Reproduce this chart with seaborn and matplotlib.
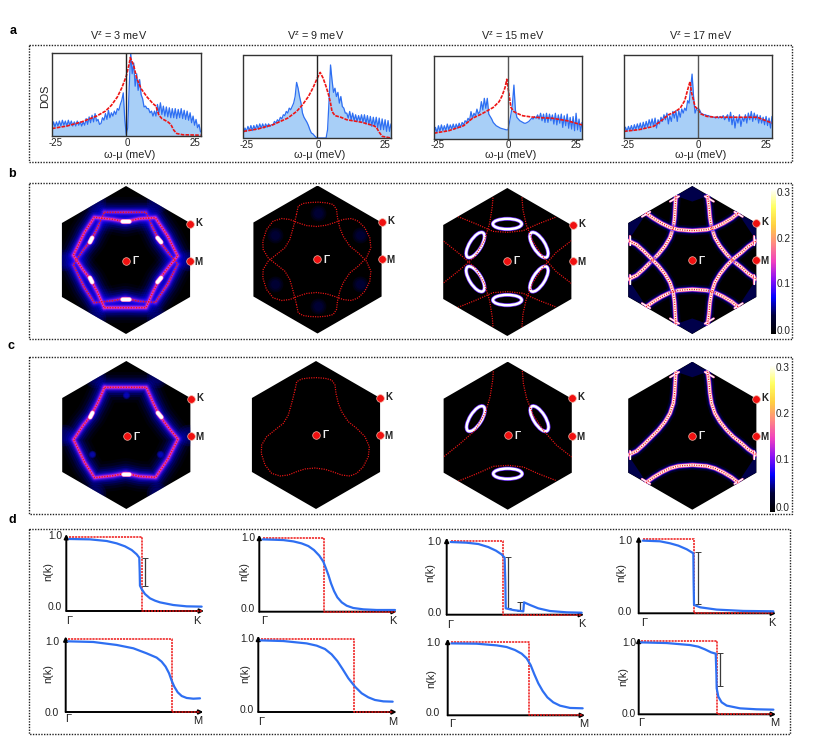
"""Recreates the DOS, Fermi surface and n(k) figure with seaborn."""

import matplotlib

matplotlib.use("Agg")
import matplotlib.pyplot as plt
import numpy as np
import seaborn as sns
from matplotlib.colors import LinearSegmentedColormap
from matplotlib.patches import Ellipse, Polygon, Rectangle

# --------------------------------------------------------------------------- #
# Data: panel a, DOS on a 0.5 meV grid from -25 to 25 meV
# --------------------------------------------------------------------------- #

V_Z = [3, 9, 15, 17]
OMEGA = np.arange(-25, 25.5, 0.5)

DOS_3 = [
    .10, .17, .11, .17, .12, .18, .12, .19, .13, .18,
    .12, .19, .13, .18, .12, .17, .12, .18, .13, .17,
    .12, .17, .13, .21, .14, .23, .16, .25, .17, .27,
    .18, .20, .14, .15, .22, .19, .27, .20, .31, .22,
    .28, .24, .30, .26, .33, .31, .38, .43, .52, .20,
    .02, .10, .60, 1.0, .75, .88, .60, .75, .55, .68,
    .50, .45, .35, .36, .33, .33, .28, .30, .24, .30,
    .24, .38, .28, .40, .26, .36, .24, .35, .23, .34,
    .22, .33, .22, .33, .21, .32, .22, .33, .21, .31,
    .20, .30, .19, .28, .16, .24, .13, .20, .10, .14,
    .05,
]
DOS_9 = [
    .06, .12, .08, .14, .09, .15, .09, .15, .10, .16,
    .11, .17, .12, .17, .12, .17, .13, .17, .14, .16,
    .16, .20, .18, .22, .20, .25, .23, .28, .27, .32,
    .30, .36, .34, .38, .42, .50, .67, .60, .50, .42,
    .30, .25, .22, .19, .15, .10, .06, .05, .03, .01,
    0, 0, 0, 0, 0, 0, 0, .10, .45, .88,
    .70, .55, .60, .50, .55, .42, .50, .38, .36, .30,
    .30, .24, .32, .22, .30, .21, .28, .20, .27, .20,
    .28, .19, .28, .17, .27, .16, .26, .14, .25, .14,
    .25, .12, .24, .10, .23, .10, .22, .08, .21, .08,
    .17,
]
DOS_15 = [
    .06, .14, .08, .16, .09, .17, .10, .16, .10, .18,
    .11, .17, .12, .18, .12, .18, .13, .19, .14, .20,
    .17, .22, .20, .25, .22, .33, .25, .31, .28, .36,
    .30, .33, .45, .35, .49, .37, .49, .30, .27, .24,
    .20, .18, .16, .15, .14, .13, .125, .12, .115, .11,
    .11, .20, .30, .42, .65, .35, .26, .24, .22, .21,
    .20, .19, .19, .20, .21, .23, .25, .24, .27, .25,
    .29, .24, .31, .22, .30, .20, .31, .20, .30, .22,
    .29, .18, .31, .17, .29, .19, .30, .14, .28, .16,
    .30, .13, .26, .12, .27, .10, .31, .11, .24, .09,
    .20,
]
DOS_17 = [
    .07, .13, .08, .14, .09, .15, .09, .16, .10, .17,
    .11, .18, .10, .19, .12, .20, .13, .22, .15, .23,
    .14, .24, .12, .22, .17, .25, .20, .28, .22, .30,
    .17, .27, .20, .32, .24, .33, .20, .33, .25, .35,
    .30, .36, .33, .45, .42, .60, .77, .50, .30, .35,
    .36, .34, .30, .29, .28, .28, .27, .27, .26, .26,
    .25, .25, .24, .26, .24, .26, .24, .27, .22, .25,
    .28, .20, .31, .16, .27, .12, .25, .18, .28, .14,
    .25, .20, .28, .18, .30, .22, .32, .20, .30, .22,
    .28, .18, .27, .18, .25, .16, .26, .15, .24, .12,
    .26,
]
DOS_BLUE = [DOS_3, DOS_9, DOS_15, DOS_17]

RED_3_W = [-25, -20, -15, -10, -7, -5, -3, -1.5, 0, 1, 1.35, 2.5, 3.5, 5, 7, 9, 10, 11, 12, 14, 15, 16, 17, 19, 25]
RED_3_D = [.09, .12, .17, .24, .30, .37, .47, .58, .72, .87, .945, .85, .70, .57, .47, .39, .36, .25, .21, .17, .14, .07, .03, .015, .01]
RED_9_W = [-25, -20, -15, -10, -7, -5, -3, -1.5, 0, 1, 2, 3, 4, 4.5, 5, 6, 8, 10, 15, 19, 20, 21, 22, 25]
RED_9_D = [.08, .11, .16, .24, .32, .40, .50, .60, .72, .79, .72, .62, .50, .42, .32, .27, .25, .22, .19, .15, .13, .07, .02, 0]
RED_15_W = [-25, -20, -15, -12, -9, -7, -5, -3, -2, -1, -.4, .5, 1, 2, 3, 5, 8, 12, 15, 20, 25]
RED_15_D = [.07, .10, .16, .25, .30, .34, .38, .45, .52, .62, .72, .50, .38, .33, .31, .28, .265, .255, .25, .22, .17]
RED_17_W = [-25, -20, -15, -12, -10, -8, -6, -4.5, -3.5, -2.7, -2.2, -1.5, -1, 0, 1, 3, 6, 10, 15, 20, 25]
RED_17_D = [.08, .10, .14, .22, .28, .31, .36, .45, .58, .68, .55, .45, .38, .34, .29, .26, .25, .25, .25, .25, .18]
DOS_RED = [(RED_3_W, RED_3_D), (RED_9_W, RED_9_D), (RED_15_W, RED_15_D), (RED_17_W, RED_17_D)]

# --------------------------------------------------------------------------- #
# Data: panels b and c, Fermi contours in units of |Gamma-K|
# --------------------------------------------------------------------------- #

CONTOUR_3_X = [-.293, .27, .36, .45, .586, .698, .563, .396, .18, -.009, -.18, -.428, -.563, -.712, -.586, -.473, -.383, -.293]
CONTOUR_3_Y = [.644, .644, .441, .261, .081, -.054, -.324, -.572, -.559, -.518, -.55, -.577, -.369, -.063, .126, .27, .441, .644]

CONTOUR_9_X = [
    -.284, -.261, -.194, -.104, .009, .122, .212, .257, .27, .302, .347, .437, .55, .662, .721, .707, .64, .55, .459,
    .347, .234, .122, -.014, -.149, -.261, -.374, -.486, -.599, -.689, -.739, -.734, -.667, -.554, -.441, -.374,
    -.329, -.306, -.284,
]
CONTOUR_9_Y = [
    .608, .721, .757, .77, .775, .766, .743, .676, .563, .428, .315, .18, .09, -.023, -.158, -.293, -.428, -.518, -.554,
    -.541, -.5, -.464, -.446, -.459, -.495, -.541, -.554, -.518, -.405, -.248, -.135, -.023, .068, .158, .27,
    .428, .518, .608,
]

ARCS_15 = [
    ([-.194, -.203, -.239, -.306, -.441, -.644, -.869], [.869, .748, .523, .297, .072, -.108, -.288]),
    ([.198, .212, .257, .347, .482, .662, .865], [.874, .703, .5, .275, .072, -.131, -.288]),
    ([-.667, -.419, -.194, .009, .212, .414, .649], [-.613, -.514, -.414, -.401, -.423, -.514, -.604]),
]
ARCS_17 = [
    ([-.221, -.23, -.239, -.257, -.302, -.369, -.459, -.55, -.662, -.752, -.865],
     [.865, .73, .572, .437, .302, .189, .077, -.014, -.126, -.207, -.261]),
    ([.207, .225, .239, .261, .306, .374, .464, .554, .667, .757, .869],
     [.865, .73, .572, .437, .302, .189, .077, -.014, -.104, -.185, -.261]),
    ([-.626, -.527, -.414, -.302, -.189, 0, .194, .306, .419, .532, .622],
     [-.635, -.563, -.495, -.441, -.41, -.396, -.41, -.441, -.495, -.563, -.635]),
]
FLARES_17 = [
    ([-.30, -.18], [.79, .86]), ([.17, .29], [.86, .79]),
    ([-.84, -.84], [-.32, -.20]), ([.84, .84], [-.32, -.20]),
    ([-.68, -.57], [-.585, -.65]), ([.57, .68], [-.65, -.585]),
]

# centre x, centre y, half length, half width, tilt in degrees
POCKETS_15 = [(0, -.514, .195, .07, 0), (-.432, .23, .195, .08, 58), (.428, .23, .195, .08, 122)]
HOT_3 = [([-.488, -.457], [.24, .30]), ([.425, .475], [.30, .24]), ([-.05, .04], [-.527, -.527])]
BLOBS_3 = [(-.84, 0), (.84, 0), (-.42, .78), (.42, .78), (-.42, -.78), (.42, -.78)]
SPOTS_3 = [(-.005, .54), (-.47, -.26), (.45, -.26)]
BLOBS_9 = [(0, .63), (-.58, .33), (.58, .33), (-.58, -.33), (.58, -.33), (0, -.63)]
WEDGES_17 = [
    [(-.221, .865), (0, 1), (.207, .865), (0, .79)],
    [(-.866, -.5), (-.866, -.26), (-.62, -.63)],
    [(.866, -.5), (.866, -.26), (.62, -.63)],
]

COLORBAR_TICKS = [0.0, 0.1, 0.2, 0.3]

# --------------------------------------------------------------------------- #
# Data: panel d, n(k) along the cut, x is the fraction of the axis length
# --------------------------------------------------------------------------- #

NK_1_X = [.022, .172, .293, .366, .426, .475, .511, .53, .533, .535, .547, .571, .608, .644, .68, .777, .874, .983]
NK_1_Y = [.973, .968, .946, .914, .874, .824, .766, .72, .53, .342, .297, .23, .171, .14, .117, .081, .063, .059]
NK_2_X = [.024, .102, .175, .248, .308, .357, .398, .437, .466, .485, .503, .522, .544, .568, .6, .636, .684, .757, .854, .988]
NK_2_Y = [.977, .973, .968, .95, .923, .887, .833, .757, .676, .586, .495, .383, .279, .194, .126, .081, .05, .032, .023, .023]
NK_3_X = [.019, .201, .371, .492, .588, .661, .697, .726, .751, .77, .789, .814, .843, .879, .927, .976]
NK_3_Y = [.972, .963, .922, .876, .807, .748, .693, .624, .533, .432, .349, .271, .22, .193, .183, .188]
NK_4_X = [.017, .181, .349, .422, .482, .53, .571, .609, .651, .699, .747, .795, .843, .904, .971]
NK_4_Y = [.977, .968, .936, .905, .859, .786, .695, .586, .459, .345, .255, .2, .164, .145, .141]
NK_5_X = [.029, .146, .231, .303, .359, .4, .422, .427, .43, .485, .558, .563, .607, .667, .752, .874, .983]
NK_5_Y = [.982, .973, .955, .914, .865, .815, .77, .446, .086, .063, .045, .167, .131, .086, .05, .032, .027]
NK_6_X = [.029, .155, .228, .289, .35, .398, .40, .403, .447, .568, .762, .981]
NK_6_Y = [.982, .973, .946, .914, .865, .811, .428, .113, .081, .05, .032, .027]
NK_7_X = [.027, .211, .357, .429, .49, .539, .575, .604, .631, .66, .692, .726, .769, .818, .891, .983]
NK_7_Y = [.977, .973, .95, .928, .887, .837, .774, .683, .557, .434, .33, .244, .176, .131, .1, .095]
NK_8_X = [.017, .204, .374, .434, .483, .527, .561, .566, .568, .58, .604, .641, .738, .859, .981]
NK_8_Y = [.977, .968, .941, .919, .882, .842, .824, .534, .353, .24, .163, .118, .081, .068, .063]
NK_CURVES = [
    (NK_1_X, NK_1_Y), (NK_2_X, NK_2_Y), (NK_3_X, NK_3_Y), (NK_4_X, NK_4_Y),
    (NK_5_X, NK_5_Y), (NK_6_X, NK_6_Y), (NK_7_X, NK_7_Y), (NK_8_X, NK_8_Y),
]

# free-electron step: start, step position, end
STEPS = [
    (.022, .552, .983), (.024, .471, .988), (.019, .772, .976), (.017, .689, .971),
    (.029, .413, .983), (.029, .403, .981), (.027, .592, .983), (.017, .568, .969),
]
# quasiparticle weight bars: x, low, high
Z_BARS = [
    [(.571, .342, .72)], [], [], [],
    [(.444, .086, .775), (.536, .045, .167)], [(.434, .122, .824)], [], [(.592, .385, .828)],
]
END_LABELS = ["K", "K", "M", "M", "K", "K", "M", "M"]

# --------------------------------------------------------------------------- #
# Layout in reference pixels
# --------------------------------------------------------------------------- #

W, H = 831, 739

DOS_BOXES = [(52, 53, 200.5, 136), (243.5, 55, 391, 138), (434, 56, 582, 139), (624, 55, 772, 138)]
TITLE_X = [118.3, 315.7, 512.7, 701]
XLABEL_X = [129.3, 320, 510.7, 701]
TICK_Y = [143.5, 145, 144.5, 145]

ROW_B = [(126, 260), (317.5, 259.5), (507.3, 262), (692.3, 260)]
ROW_C = [(126.3, 435), (316, 435), (507.7, 435.7), (692.3, 435.7)]
GAMMA_B = [(126, 260.7), (317.3, 259.3), (507.3, 260.7), (692.3, 260)]
GAMMA_C = [(127, 436), (316, 435), (507.7, 435.3), (692, 435.7)]
KM_B = [(190, 223.7, 260.7), (381.7, 222.3, 259.3), (572.5, 225.3, 260.7), (756, 222.7, 260)]
KM_C = [(191.3, 399, 436), (380, 397.7, 434.7), (572, 398.3, 435.7), (756.3, 398.7, 435.7)]

# y axis x, arrow tip x, y of n=1, y of n=0
NK_BOXES = [
    (66.3, 204, 537, 611), (259.3, 396.7, 537.7, 611.7),
    (65.7, 203.3, 639.3, 712), (258.3, 396.7, 638.7, 712),
    (446.7, 584, 540.7, 614.7), (638.7, 776, 539.3, 613.3),
    (447.7, 585, 641.7, 715.3), (638.7, 776, 640.7, 714.3),
]
# 1.0 label right edge and y, 0.0 label y, n(k) x and y
NK_TEXT = [
    (62.3, 535.7, 606.7, 48.7, 571.7), (255, 538.3, 609.3, 244.3, 571.7),
    (59, 641.7, 712.7, 48.7, 674), (254, 639, 710, 245, 674),
    (441.7, 542.3, 613, 430.7, 572.7), (632, 541, 612, 621.7, 572.7),
    (440, 643.3, 713.3, 431, 679), (636, 643.3, 714, 623.3, 677),
]
# Gamma x and y, end label x and y
NK_ENDS = [
    (69, 620.7, 197.3, 620.7), (264, 621.5, 393.3, 621.5),
    (68.3, 719, 198, 721), (261, 721.7, 393, 722.3),
    (450, 625, 582, 624), (644, 622.7, 772.3, 622.7),
    (452.3, 724, 583.3, 724), (640.7, 723.3, 775, 722.7),
]

BLUE = "#2e6ff2"
FILL = "#a8cff7"
RED = "#ee1515"
DARK = "#3a3a3a"
RED_DOTS = (0, (0.9, 1.0))

STRONG_GLOW = [
    (22, .07, "#0000a0"), (18, .10, "#0000c8"), (14, .14, "#0000f0"),
    (11, .18, "#0000ff"), (8, .25, "#1808ff"), (6, .30, "#3010ff"),
    (4.4, .45, "#6010f8"), (3, .6, "#a020e8"), (1.6, .8, "#f040c8"),
]
THIN_GLOW = [
    (7, .15, "#0000ff"), (4.6, .35, "#0000ff"), (3.4, .8, "#8a20ff"),
    (2.6, 1, "#ff60a0"), (2.0, 1, "#ffc0a0"), (1.5, 1, "#ffffff"),
]

ZONE_CMAP = LinearSegmentedColormap.from_list(
    "zone",
    ["#000000", "#00003a", "#0000ff", "#8a10f5", "#f040c0", "#ff8a80", "#ffd040", "#ffff60", "#ffffff"],
)

sns.set_theme(style="white")
plt.rcParams["font.family"] = ["Liberation Sans", "DejaVu Sans"]
plt.rcParams["mathtext.default"] = "regular"

fig = plt.figure(figsize=(W / 100, H / 100), dpi=100, facecolor="white")
overlay = fig.add_axes([0, 0, 1, 1], zorder=10)
overlay.set_xlim(0, W)
overlay.set_ylim(H, 0)
overlay.axis("off")


def px_axes(left, top, right, bottom):
    """Add axes given by their edges in reference pixels."""
    return fig.add_axes([left / W, 1 - bottom / H, (right - left) / W, (bottom - top) / H])


def label(x, y, text, size=7.4, weight="normal", ha="center", color="#222222", **kwargs):
    """Write text on the overlay at a pixel position."""
    overlay.text(x, y, text, fontsize=size, fontweight=weight, ha=ha, va="center", color=color, **kwargs)


def trace(ax, xs, ys, color, lw, **kwargs):
    """Draw one polyline in the given order and return it."""
    sns.lineplot(x=xs, y=ys, ax=ax, color=color, linewidth=lw, estimator=None, errorbar=None,
                 sort=False, legend=False, **kwargs)
    return ax.lines[-1]


# --------------------------------------------------------------------------- #
# Panel a
# --------------------------------------------------------------------------- #


def draw_dos(index):
    left, top, right, bottom = DOS_BOXES[index]
    ax = px_axes(left, top, right, bottom)
    blue = DOS_BLUE[index]
    red_w, red_d = DOS_RED[index]
    edge = "#222222" if index < 2 else "#555555"

    ax.fill_between(OMEGA, blue, color=FILL, linewidth=0)
    trace(ax, OMEGA, blue, BLUE, 0.9)
    trace(ax, red_w, red_d, RED, 1.2, linestyle=(0, (2.2, 0.7)))
    ax.axvline(0, color=edge, lw=1.0)
    ax.set_xlim(-25, 25)
    ax.set_ylim(0, 1)
    ax.set_xticks([])
    ax.set_yticks([])
    for spine in ax.spines.values():
        spine.set_color("#333333")
        spine.set_linewidth(1.0)

    label(TITLE_X[index], 36, f"V$^z$ = {V_Z[index]} meV", size=7.8)
    label(XLABEL_X[index], 155.3, "ω-μ (meV)", size=7.8)
    tick_y = TICK_Y[index]
    label(left + 3.5, tick_y, "-25", size=7)
    label((left + right) / 2 + 0.7, tick_y, "0", size=7)
    label(right - 6, tick_y, "25", size=7)


# --------------------------------------------------------------------------- #
# Panels b and c
# --------------------------------------------------------------------------- #


def flip(curves):
    """Mirror polylines across the kx axis."""
    return [(x, [-v for v in y]) for x, y in curves]


def draw_zone(center, contours, glow=None, pockets=(), hot=(), flares=(), blobs=(), wedges=(), dot_lw=0.9):
    """Draw one black Brillouin zone hexagon with its contours."""
    cx, cy = center
    ax = px_axes(cx - 74, cy - 74, cx + 74, cy + 74)
    ax.set_xlim(-1, 1)
    ax.set_ylim(-1, 1)
    ax.axis("off")
    corners = [(0, 1), (.866, .5), (.866, -.5), (0, -1), (-.866, -.5), (-.866, .5)]
    hexagon = Polygon(corners, closed=True, facecolor="black", edgecolor="none")
    ax.add_patch(hexagon)

    for wedge in wedges:
        patch = Polygon(wedge, closed=True, facecolor="#00004a", edgecolor="none")
        ax.add_patch(patch)
        patch.set_clip_path(hexagon)

    for bx, by, size, alpha, color in blobs:
        for scale in (1.0, 0.6, 0.3):
            sns.scatterplot(x=[bx], y=[by], ax=ax, s=size * scale, color=color, alpha=alpha,
                            linewidth=0, legend=False)
            ax.collections[-1].set_clip_path(hexagon)

    for xs, ys in contours:
        for lw, alpha, color in glow or []:
            line = trace(ax, xs, ys, color, lw, alpha=alpha, solid_joinstyle="round")
            line.set_clip_path(hexagon)
    for xs, ys in flares:
        trace(ax, xs, ys, "#ff70b0", 1.6).set_clip_path(hexagon)
        trace(ax, xs, ys, "#ffffff", 0.9).set_clip_path(hexagon)
    for px, py, long_axis, short_axis, tilt in pockets:
        for lw, color in ((2.8, "#7030ff"), (1.8, "#ffffff")):
            ring = Ellipse((px, py), 2 * long_axis, 2 * short_axis, angle=tilt, fill=False,
                           edgecolor=color, linewidth=lw)
            ax.add_patch(ring)
            ring.set_clip_path(hexagon)
    for xs, ys in contours:
        trace(ax, xs, ys, RED, dot_lw, linestyle=RED_DOTS).set_clip_path(hexagon)
    for xs, ys in hot:
        trace(ax, xs, ys, "#ff80c0", 3.4).set_clip_path(hexagon)
        trace(ax, xs, ys, "#ffffff", 2.5).set_clip_path(hexagon)


def mark_points(gamma, km):
    """Put the Gamma, K and M dots and labels on the overlay."""
    gx, gy = gamma
    kmx, ky, my = km
    overlay.scatter([gx, kmx, kmx], [gy, ky, my], s=30, color="#f01010", edgecolors="#f4b0a0",
                    linewidths=0.5, zorder=5)
    label(gx + 9.5, gy + 0.5, "Γ", size=7.4, weight="bold", color="#eeeeee")
    label(kmx + 9, ky - 1, "K", size=7, weight="bold")
    label(kmx + 8.5, my + 1, "M", size=7, weight="bold")


def draw_colorbar(left, right, top, bottom, tick_y):
    """Draw the vertical colour scale with its labels."""
    ax = px_axes(left, top, right, bottom)
    gradient = np.linspace(0.31, 0, 256).reshape(-1, 1)
    sns.heatmap(gradient, ax=ax, cmap=ZONE_CMAP, vmin=0, vmax=0.31, cbar=False,
                xticklabels=False, yticklabels=False)
    for value, y in zip(COLORBAR_TICKS, tick_y):
        label(right + 0.5, y, f"{value:.1f}", size=7.2, ha="left")


# --------------------------------------------------------------------------- #
# Panel d
# --------------------------------------------------------------------------- #


def draw_occupation(index):
    x0, tip, y1, y0 = NK_BOXES[index]
    ax = px_axes(x0, y1, tip, y0)
    ax.set_xlim(0, 1)
    ax.set_ylim(0, 1)
    ax.patch.set_alpha(0)
    ax.set_xticks([])
    ax.set_yticks([])
    sns.despine(ax=ax, left=True, bottom=True)

    arrow = dict(arrowstyle="-|>", color="black", lw=1.4, shrinkA=0, shrinkB=0, mutation_scale=6)
    ax.annotate("", xy=(0, 1.04), xytext=(0, 0), arrowprops=arrow, annotation_clip=False)
    ax.annotate("", xy=(1, 0), xytext=(0, 0), arrowprops=arrow, annotation_clip=False)

    start, step, end = STEPS[index]
    trace(ax, [start, step, step, end], [1, 1, 0, 0], RED, 1.1, linestyle=(0, (1.4, 0.6)),
          clip_on=False, zorder=4)
    xs, ys = NK_CURVES[index]
    trace(ax, xs, ys, BLUE, 1.6, clip_on=False, zorder=5, solid_joinstyle="round")
    for bar_x, low, high in Z_BARS[index]:
        ax.errorbar([bar_x], [(low + high) / 2], yerr=[(high - low) / 2], color=DARK, lw=0.9,
                    capsize=2, capthick=0.7, clip_on=False, zorder=4)

    right_edge, y_one, y_zero, nk_x, nk_y = NK_TEXT[index]
    label(right_edge, y_one, "1.0", size=7.4, ha="right")
    label(right_edge, y_zero, "0.0", size=7.4, ha="right")
    label(nk_x, nk_y, "n(k)", size=7.8, rotation=90)
    gx, gy, ex, ey = NK_ENDS[index]
    label(gx, gy, "Γ", size=8)
    label(ex, ey, END_LABELS[index], size=8)


# --------------------------------------------------------------------------- #
# Figure
# --------------------------------------------------------------------------- #

for i in range(4):
    draw_dos(i)
label(45, 96, "DOS", size=7.8, rotation=90)

pockets_mirrored = [(x, -y, a, b, -t) for x, y, a, b, t in POCKETS_15]
hot_mirrored = flip(HOT_3)
flares_mirrored = flip(FLARES_17)
contour_3 = [(CONTOUR_3_X, CONTOUR_3_Y)]
contour_9 = [(CONTOUR_9_X, CONTOUR_9_Y)]
blobs_3 = [(x, y, 240, .16, "#0000e0") for x, y in BLOBS_3]
spots_3 = [(x, y, 28, .35, "#1010e0") for x, y in SPOTS_3]
spots_3_mirrored = [(x, -y, s, a, c) for x, y, s, a, c in spots_3]
blobs_9 = [(x, y, 130, .10, "#0000c0") for x, y in BLOBS_9]
wedges_mirrored = [[(x, -y) for x, y in w] for w in WEDGES_17]

draw_zone(ROW_B[0], contour_3 + flip(contour_3), STRONG_GLOW, hot=HOT_3 + hot_mirrored,
          blobs=blobs_3 + spots_3 + spots_3_mirrored, dot_lw=1.0)
draw_zone(ROW_B[1], contour_9 + flip(contour_9), blobs=blobs_9)
draw_zone(ROW_B[2], ARCS_15 + flip(ARCS_15), pockets=POCKETS_15 + pockets_mirrored)
draw_zone(ROW_B[3], ARCS_17 + flip(ARCS_17), THIN_GLOW, flares=FLARES_17 + flares_mirrored,
          wedges=WEDGES_17 + wedges_mirrored)

draw_zone(ROW_C[0], contour_3, STRONG_GLOW, hot=HOT_3, blobs=blobs_3 + spots_3, dot_lw=1.0)
draw_zone(ROW_C[1], contour_9)
draw_zone(ROW_C[2], ARCS_15, pockets=POCKETS_15)
draw_zone(ROW_C[3], ARCS_17, THIN_GLOW, flares=FLARES_17, wedges=WEDGES_17)

for gamma, km in zip(GAMMA_B + GAMMA_C, KM_B + KM_C):
    mark_points(gamma, km)

draw_colorbar(771, 775.7, 189, 334, [331, 284, 238.7, 193])
draw_colorbar(770.3, 775, 365.3, 511.7, [508, 460, 414, 368])

for i in range(8):
    draw_occupation(i)

for y_top, y_bottom, x_right in [(44.7, 161.7, 792.3), (182.7, 339, 792.3), (357.3, 513.7, 792.3), (529.3, 734.3, 790)]:
    overlay.add_patch(Rectangle((29, y_top), x_right - 29, y_bottom - y_top, fill=False,
                                edgecolor="#222222", linewidth=1.0, linestyle=(0, (1, 1))))

for letter, x, y in [("a", 13, 31), ("b", 12, 174), ("c", 11, 346), ("d", 12, 520)]:
    label(x, y, letter, size=9, weight="bold", color="black")

fig.savefig("out.png", dpi=100)
plt.close(fig)
